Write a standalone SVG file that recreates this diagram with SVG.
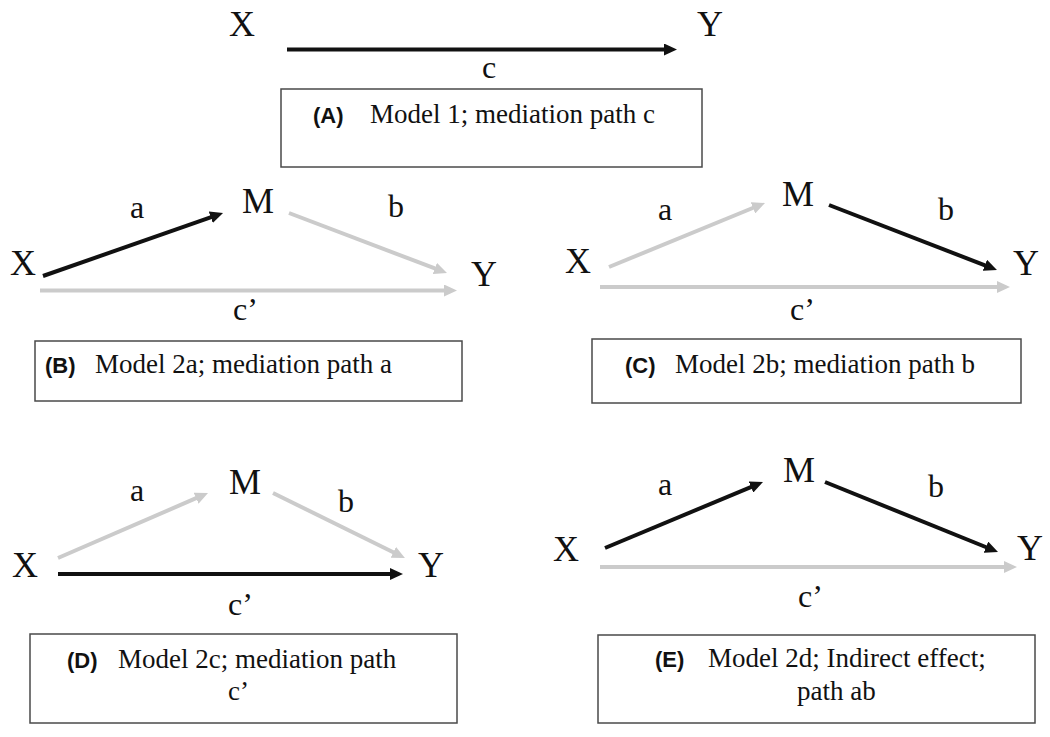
<svg xmlns="http://www.w3.org/2000/svg" width="1050" height="737" viewBox="0 0 1050 737">
<style>
.lbl{font-family:"Liberation Serif","Times New Roman",serif;font-size:36px;fill:#111}
.pl{font-family:"Liberation Serif","Times New Roman",serif;font-size:32px;fill:#111}
.cap{font-family:"Liberation Serif","Times New Roman",serif;font-size:27px;fill:#111}
.tag{font-family:"Liberation Sans",Arial,sans-serif;font-size:22px;font-weight:bold;fill:#111}
.box{fill:#fff;stroke:#4a4a4a;stroke-width:1.5}
.blk{stroke:#111;stroke-width:4;fill:none;marker-end:url(#hb)}
.gry{stroke:#cbcbcb;stroke-width:4;fill:none;marker-end:url(#hg)}
</style>
<defs>
<marker id="hb" markerUnits="userSpaceOnUse" markerWidth="13" markerHeight="12" viewBox="0 0 13 12" refX="5" refY="6" orient="auto"><path d="M0,0 L13,6 L0,12 z" fill="#111"/></marker>
<marker id="hg" markerUnits="userSpaceOnUse" markerWidth="13" markerHeight="12" viewBox="0 0 13 12" refX="5" refY="6" orient="auto"><path d="M0,0 L13,6 L0,12 z" fill="#cbcbcb"/></marker>
</defs>
<rect width="1050" height="737" fill="#fff"/>

<g id="connectors">
<line class="blk" x1="287" y1="49.5" x2="669" y2="49.5"/>
<line class="blk" x1="43" y1="276" x2="215.5" y2="215.6"/>
<line class="gry" x1="289" y1="213" x2="439.5" y2="270.2"/>
<line class="gry" x1="40" y1="290.5" x2="449" y2="290.5"/>
<line class="gry" x1="609" y1="267" x2="757.6" y2="206"/>
<line class="blk" x1="829" y1="205" x2="989.5" y2="267.1"/>
<line class="gry" x1="600" y1="287" x2="1002" y2="287"/>
<line class="gry" x1="58" y1="558" x2="200.7" y2="496.2"/>
<line class="gry" x1="273" y1="493" x2="397.8" y2="554.5"/>
<line class="blk" x1="58" y1="574" x2="395" y2="574"/>
<line class="blk" x1="605" y1="548" x2="755.6" y2="485.1"/>
<line class="blk" x1="825" y1="482" x2="990.6" y2="549"/>
<line class="gry" x1="600" y1="567" x2="1009" y2="567"/>
</g>

<g id="edge-labels">
<text class="pl" x="482" y="78">c</text>
<text class="pl" x="130" y="218">a</text>
<text class="pl" x="388" y="217">b</text>
<text class="pl" x="233" y="320">c’</text>
<text class="pl" x="658" y="220">a</text>
<text class="pl" x="938" y="220">b</text>
<text class="pl" x="790" y="320">c’</text>
<text class="pl" x="130" y="501">a</text>
<text class="pl" x="338" y="512">b</text>
<text class="pl" x="228" y="615">c’</text>
<text class="pl" x="658" y="495">a</text>
<text class="pl" x="928" y="497">b</text>
<text class="pl" x="798" y="607">c’</text>
</g>

<g id="A-X"><text class="lbl" x="229" y="36">X</text></g>
<g id="A-Y"><text class="lbl" x="697" y="36">Y</text></g>
<g id="A-caption"><rect class="box" x="281" y="89" width="421" height="78"/><text class="tag" x="313" y="123">(A)</text><text class="cap" x="370" y="123">Model 1; mediation path c</text></g>

<g id="B-X"><text class="lbl" x="10" y="275">X</text></g>
<g id="B-M"><text class="lbl" x="242" y="213">M</text></g>
<g id="B-Y"><text class="lbl" x="471" y="286">Y</text></g>
<g id="B-caption"><rect class="box" x="35" y="341" width="427" height="60"/><text class="tag" x="45" y="373">(B)</text><text class="cap" x="95" y="373">Model 2a; mediation path a</text></g>

<g id="C-X"><text class="lbl" x="565" y="273">X</text></g>
<g id="C-M"><text class="lbl" x="782" y="206">M</text></g>
<g id="C-Y"><text class="lbl" x="1013" y="275">Y</text></g>
<g id="C-caption"><rect class="box" x="592" y="339" width="429" height="64"/><text class="tag" x="625" y="373">(C)</text><text class="cap" x="675" y="373">Model 2b; mediation path b</text></g>

<g id="D-X"><text class="lbl" x="12" y="577">X</text></g>
<g id="D-M"><text class="lbl" x="229" y="494">M</text></g>
<g id="D-Y"><text class="lbl" x="418" y="577">Y</text></g>
<g id="D-caption"><rect class="box" x="30" y="634" width="427" height="89"/><text class="tag" x="67" y="668">(D)</text><text class="cap" x="118" y="668">Model 2c; mediation path</text><text class="cap" x="228" y="700">c’</text></g>

<g id="E-X"><text class="lbl" x="553" y="561">X</text></g>
<g id="E-M"><text class="lbl" x="783" y="482">M</text></g>
<g id="E-Y"><text class="lbl" x="1017" y="560">Y</text></g>
<g id="E-caption"><rect class="box" x="598" y="635" width="437" height="88"/><text class="tag" x="655" y="667">(E)</text><text class="cap" x="708" y="667">Model 2d; Indirect effect;</text><text class="cap" x="797" y="700">path ab</text></g>
</svg>
